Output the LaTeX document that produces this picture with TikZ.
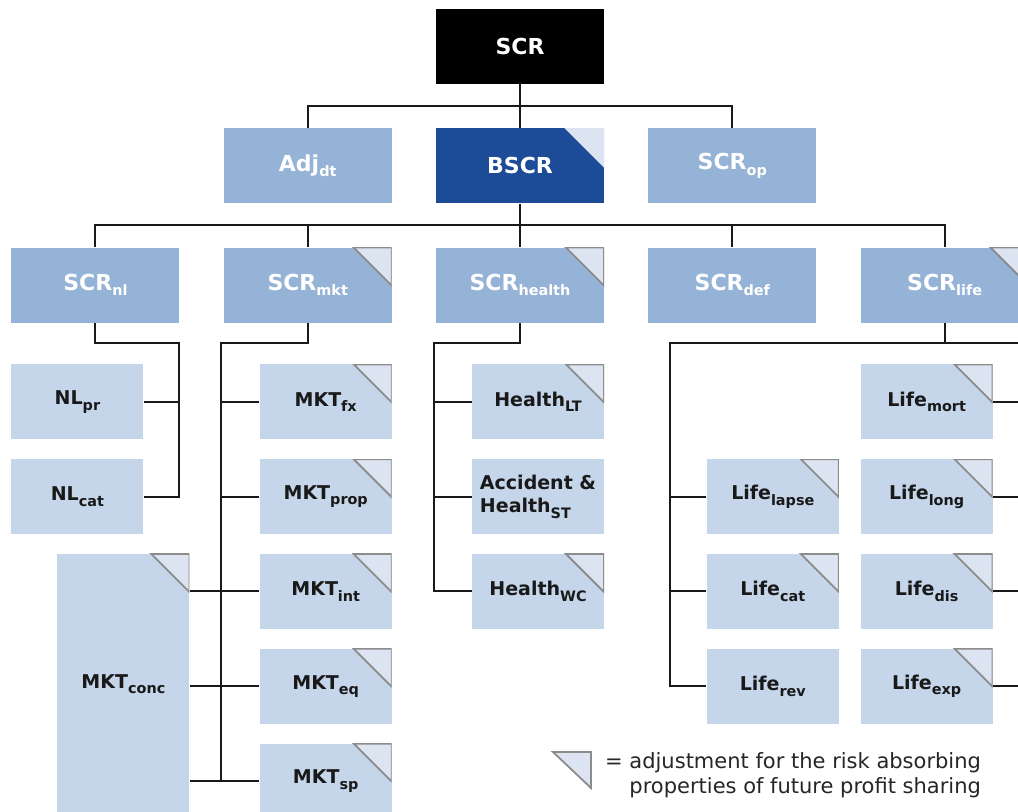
\documentclass[tikz,border=0pt]{standalone}
\usepackage{fontspec}
\setmainfont{DejaVu Sans}
\usepackage{xcolor}
\usepackage{tikz}
\usetikzlibrary{positioning,calc}
\definecolor{bscrblue}{RGB}{28,76,152}
\definecolor{midblue}{RGB}{149,179,215}
\definecolor{leafblue}{RGB}{197,213,234}
\definecolor{cornerfill}{RGB}{221,228,241}
\definecolor{cornerline}{RGB}{140,140,140}
\newcommand{\sbs}[1]{\raisebox{-2.7pt}{\fontsize{7.2}{8}\selectfont #1}}

\begin{document}
\begin{tikzpicture}[
    node distance=21.75pt and 21.75pt,
    box/.style={rectangle, inner sep=0pt, minimum width=84pt, minimum height=37.5pt, text centered, text=white, font=\bfseries\fontsize{11}{13}\selectfont},
    rootbox/.style={box, fill=black},
    bscrbox/.style={box, fill=bscrblue},
    midbox/.style={box, fill=midblue},
    leaf/.style={rectangle, inner sep=0pt, minimum width=66pt, minimum height=37.5pt, fill=leafblue, text=black!90, align=center, font=\bfseries\fontsize{9.5}{11.5}\selectfont},
    flag/.style={path picture={\filldraw[fill=cornerfill, draw=#1, line width=0.9pt] (path picture bounding box.north east) -- ++(-19pt,0) -- ++(19pt,-19pt) -- cycle;}},
    flag/.default=cornerline,
    link/.style={draw=black!90, line width=1pt},
    legend/.style={align=right, text=black!85, font=\fontsize{10.5}{12.5}\selectfont}
]
    \useasboundingbox (0,0) rectangle (509pt,-406pt);
    \fill[white] (0,0) rectangle (509pt,-406pt);
    \clip (0,0) rectangle (509pt,-406pt);

    % Top levels
    \node[rootbox] (scr) at (260pt,-23.25pt) {SCR};
    \node[bscrbox, flag=cornerfill, below=of scr] (bscr) {BSCR};
    \node[midbox, left=of bscr] (adjdt) {Adj\sbs{dt}};
    \node[midbox, right=of bscr] (scrop) {SCR\sbs{op}};

    % Risk modules
    \node[midbox, flag, below=of bscr] (scrhealth) {SCR\sbs{health}};
    \node[midbox, flag, left=of scrhealth] (scrmkt) {SCR\sbs{mkt}};
    \node[midbox, left=of scrmkt] (scrnl) {SCR\sbs{nl}};
    \node[midbox, right=of scrhealth] (scrdef) {SCR\sbs{def}};
    \node[midbox, flag, right=of scrdef] (scrlife) {SCR\sbs{life}};

    % Non-life
    \node[leaf, below=20.5pt of scrnl.south west, anchor=north west] (nlpr) {NL\sbs{pr}};
    \node[leaf, below=9.5pt of nlpr] (nlcat) {NL\sbs{cat}};

    % Market
    \node[leaf, flag, below=20.5pt of scrmkt.south east, anchor=north east] (mktfx) {MKT\sbs{fx}};
    \node[leaf, flag, below=9.5pt of mktfx] (mktprop) {MKT\sbs{prop}};
    \node[leaf, flag, below=9.5pt of mktprop] (mktint) {MKT\sbs{int}};
    \node[leaf, flag, below=9.5pt of mktint] (mkteq) {MKT\sbs{eq}};
    \node[leaf, flag, below=9.5pt of mkteq] (mktsp) {MKT\sbs{sp}};
    \node[leaf, flag, minimum height=130pt, left=34.75pt of mktint.north west, anchor=north east] (mktconc) {MKT\sbs{conc}};

    % Health
    \node[leaf, flag, below=20.5pt of scrhealth.south east, anchor=north east] (healthlt) {Health\sbs{LT}};
    \node[leaf, align=left, below=9.5pt of healthlt] (healthst) {Accident \&\\Health\sbs{ST}};
    \node[leaf, flag, below=9.5pt of healthst] (healthwc) {Health\sbs{WC}};

    % Life
    \node[leaf, flag, below=20.5pt of scrlife.south west, anchor=north west] (lifemort) {Life\sbs{mort}};
    \node[leaf, flag, below=9.5pt of lifemort] (lifelong) {Life\sbs{long}};
    \node[leaf, flag, below=9.5pt of lifelong] (lifedis) {Life\sbs{dis}};
    \node[leaf, flag, below=9.5pt of lifedis] (lifeexp) {Life\sbs{exp}};
    \node[leaf, flag, left=10.5pt of lifelong] (lifelapse) {Life\sbs{lapse}};
    \node[leaf, flag, below=9.5pt of lifelapse] (lifecat) {Life\sbs{cat}};
    \node[leaf, below=9.5pt of lifecat] (liferev) {Life\sbs{rev}};

    % Tree lines
    \coordinate (bus1) at ($(scr.south)!0.5!(bscr.north)$);
    \coordinate (bus2) at ($(bscr.south)!0.5!(scrhealth.north)$);
    \draw[link] (scr) -- (bscr);
    \draw[link] (adjdt.north) |- (bus1) -| (scrop.north);
    \draw[link] (bscr) -- (scrhealth);
    \draw[link] (scrnl.north) |- (bus2) -| (scrlife.north);
    \draw[link] (scrmkt.north) -- (scrmkt.north |- bus2);
    \draw[link] (scrdef.north) -- (scrdef.north |- bus2);

    \coordinate (nlrail) at ($(scrnl.south east)+(-0.5pt,-10pt)$);
    \draw[link] (scrnl.south) |- (nlrail) |- (nlcat.east);
    \draw[link] (nlpr.east) -- (nlpr.east -| nlrail);

    \coordinate (mktrail) at ($(scrmkt.south west)+(-1pt,-10pt)$);
    \draw[link] (scrmkt.south) |- (mktrail) |- (mktsp.west);
    \foreach \n in {mktfx,mktprop,mktint,mkteq}
        \draw[link] (\n.west) -- (\n.west -| mktrail);
    \foreach \n in {mktint,mkteq,mktsp}
        \draw[link] (mktconc.east |- \n.west) -- (\n.west);

    \coordinate (hlthrail) at ($(scrhealth.south west)+(-1pt,-10pt)$);
    \draw[link] (scrhealth.south) |- (hlthrail) |- (healthwc.west);
    \foreach \n in {healthlt,healthst}
        \draw[link] (\n.west) -- (\n.west -| hlthrail);

    \coordinate (liferailL) at ($(scrlife.south)+(-137.5pt,-10pt)$);
    \coordinate (liferailR) at ($(scrlife.south)+(137.5pt,-10pt)$);
    \draw[link] (scrlife.south) -- (scrlife.south |- liferailL);
    \draw[link] (liferailR) -- (liferailL) |- (liferev.west);
    \draw[link] (liferailR) |- (lifeexp.east);
    \foreach \n in {lifelapse,lifecat}
        \draw[link] (\n.west) -- (\n.west -| liferailL);
    \foreach \n in {lifemort,lifelong,lifedis}
        \draw[link] (\n.east) -- (\n.east -| liferailR);

    % Legend
    \coordinate (legtri) at (295.5pt,-376pt);
    \filldraw[fill=cornerfill, draw=cornerline, line width=0.9pt] (legtri) -- ++(-19pt,0) -- ++(19pt,-18pt) -- cycle;
    \node[legend, anchor=east] (legtext) at (494pt,-387.5pt) {= adjustment for the risk absorbing\\properties of future profit sharing};
\end{tikzpicture}
\end{document}
